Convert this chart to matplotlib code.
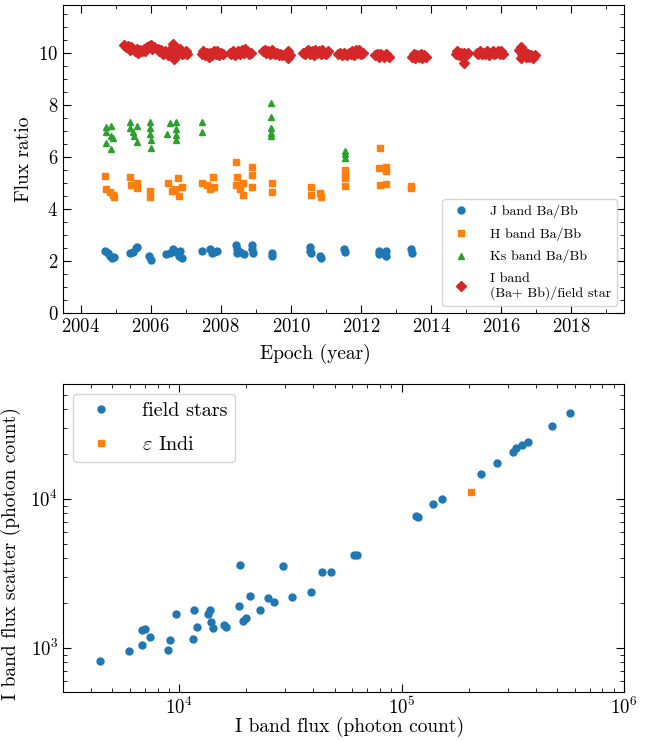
import matplotlib
matplotlib.use("Agg")
import matplotlib.pyplot as plt
from matplotlib.ticker import MultipleLocator

plt.rcParams['font.family'] = 'cmr10'
plt.rcParams['mathtext.fontset'] = 'cm'
plt.rcParams['axes.formatter.use_mathtext'] = True
plt.rcParams['axes.unicode_minus'] = False

# J band Ba/Bb
j_year = [2004.7, 2004.78, 2004.85, 2004.9, 2004.95,
          2005.42, 2005.5, 2005.58, 2005.6, 2005.95, 2006.0,
          2006.45, 2006.55, 2006.65, 2006.72, 2006.8, 2006.85, 2006.88,
          2007.45, 2007.68, 2007.75, 2007.82, 2007.88,
          2008.42, 2008.45, 2008.45, 2008.55, 2008.65, 2008.9, 2008.9, 2008.92,
          2009.45, 2009.45, 2010.55, 2010.55, 2010.56, 2010.82, 2010.86,
          2011.52, 2011.53, 2012.5, 2012.52, 2012.62, 2012.7, 2012.72,
          2013.43, 2013.44]
j_ratio = [2.38, 2.3, 2.2, 2.1, 2.15,
           2.3, 2.35, 2.5, 2.55, 2.2, 2.05,
           2.25, 2.3, 2.45, 2.35, 2.2, 2.4, 2.1,
           2.38, 2.45, 2.3, 2.35, 2.4,
           2.6, 2.45, 2.3, 2.35, 2.28, 2.6, 2.45, 2.3,
           2.3, 2.2, 2.55, 2.4, 2.3, 2.2, 2.1,
           2.45, 2.35, 2.4, 2.25, 2.3, 2.4, 2.2,
           2.45, 2.3]

# H band Ba/Bb
h_year = [2004.69, 2004.72, 2004.83, 2004.93, 2004.95,
          2005.42, 2005.45, 2005.6, 2005.6, 2005.99, 2005.99,
          2006.5, 2006.6, 2006.69, 2006.78, 2006.8, 2006.88,
          2007.45, 2007.6, 2007.68, 2007.78, 2007.82,
          2008.43, 2008.45, 2008.43, 2008.55, 2008.63, 2008.63,
          2008.9, 2008.9, 2008.9, 2009.45, 2009.45,
          2010.58, 2010.58, 2010.82, 2010.86,
          2011.53, 2011.53, 2011.53, 2011.53,
          2012.53, 2012.51, 2012.7, 2012.7, 2012.53, 2012.7,
          2013.43, 2013.43]
h_ratio = [5.27, 4.78, 4.65, 4.53, 4.45,
           5.23, 4.9, 4.98, 4.8, 4.7, 4.46,
           5.0, 4.68, 4.78, 5.17, 4.5, 4.85,
           5.0, 4.9, 4.78, 5.23, 4.85,
           5.8, 5.23, 4.91, 4.75, 4.98, 4.53,
           5.62, 5.3, 4.85, 4.98, 4.65,
           4.85, 4.55, 4.6, 4.45,
           5.49, 5.3, 5.17, 4.88,
           6.32, 5.55, 5.6, 5.45, 4.91, 4.95,
           4.89, 4.8]

# Ks band Ba/Bb
ks_year = [2004.72, 2004.72, 2004.86, 2004.88, 2004.92, 2004.72, 2004.86,
           2005.4, 2005.4, 2005.6, 2005.5, 2005.53, 2005.6,
           2005.97, 2005.97, 2005.97, 2006.0, 2006.0,
           2006.54, 2006.72, 2006.72, 2006.72, 2006.72, 2006.47,
           2007.45, 2007.45,
           2009.44, 2009.44, 2009.44, 2009.44, 2009.44,
           2011.53, 2011.53, 2011.53]
ks_ratio = [7.15, 6.94, 7.19, 6.81, 6.72, 6.52, 6.3,
            7.35, 7.12, 7.19, 6.94, 6.8, 6.58,
            7.32, 7.1, 6.88, 6.66, 6.35,
            7.28, 7.35, 7.05, 6.85, 6.66, 6.86,
            7.32, 6.94,
            8.05, 7.54, 7.1, 6.9, 6.8,
            6.22, 6.1, 5.95]

# I band (Ba+Bb)/field star
i_year = [2005.25, 2005.3, 2005.35, 2005.4, 2005.45, 2005.5, 2005.55, 2005.6, 2005.65,
          2005.7, 2005.75, 2005.8, 2005.85, 2005.9, 2005.95, 2006.0, 2006.05, 2006.1,
          2006.2, 2006.25, 2006.3, 2006.35, 2006.4, 2006.45, 2006.5, 2006.55, 2006.6,
          2006.65, 2006.67, 2006.7, 2006.75, 2006.8, 2006.85, 2006.9, 2006.95, 2007.0, 2007.05,
          2007.45, 2007.5, 2007.55, 2007.6, 2007.65, 2007.7, 2007.75, 2007.8, 2007.85,
          2007.9, 2007.95, 2008.0, 2008.05,
          2008.25, 2008.3, 2008.35, 2008.4, 2008.45, 2008.5, 2008.55, 2008.6, 2008.65,
          2008.7, 2008.75, 2008.8, 2008.85,
          2009.2, 2009.25, 2009.3, 2009.35, 2009.4, 2009.45, 2009.5, 2009.55, 2009.6,
          2009.65, 2009.7, 2009.75,
          2009.9, 2009.93, 2009.93, 2009.96,
          2010.35, 2010.4, 2010.45, 2010.5, 2010.55, 2010.6, 2010.65, 2010.7, 2010.75,
          2010.8, 2010.85, 2010.9, 2010.95, 2011.0, 2011.05,
          2011.35, 2011.4, 2011.45, 2011.5, 2011.55, 2011.6, 2011.65, 2011.7, 2011.75,
          2011.8, 2011.85, 2011.9, 2011.95, 2012.0, 2012.05,
          2012.4, 2012.45, 2012.5, 2012.55, 2012.6, 2012.65, 2012.7, 2012.75, 2012.8,
          2013.45, 2013.5, 2013.55, 2013.6, 2013.65, 2013.7, 2013.75, 2013.8, 2013.85,
          2014.7, 2014.75, 2014.8, 2014.85, 2014.9, 2014.95, 2014.95, 2015.0, 2015.05,
          2015.3, 2015.35, 2015.4, 2015.45, 2015.5, 2015.55, 2015.6, 2015.65, 2015.7,
          2015.75, 2015.8, 2015.85, 2015.9, 2015.95, 2016.0, 2016.05,
          2016.5, 2016.55, 2016.55, 2016.6, 2016.65, 2016.7, 2016.75, 2016.8, 2016.85,
          2016.9, 2016.95]
i_ratio = [10.3, 10.2, 10.25, 10.1, 10.2, 10.15, 10.05, 10.15, 10.0,
           10.1, 10.05, 10.15, 10.05, 10.2, 10.25, 10.3, 10.15, 10.2,
           10.15, 10.05, 10.1, 9.95, 10.05, 10.0, 9.9, 10.1, 10.15,
           10.35, 9.75, 10.2, 9.9, 10.05, 10.15, 9.95, 10.0, 10.05, 9.95,
           9.95, 10.05, 9.9, 10.0, 9.85, 10.0, 9.9, 10.05, 9.95,
           10.05, 9.9, 10.0, 9.95,
           10.0, 9.95, 10.05, 9.9, 10.0, 10.05, 9.95, 10.1, 10.0,
           10.15, 10.05, 9.95, 10.0,
           10.05, 10.1, 10.0, 10.05, 9.95, 10.1, 10.0, 9.95, 10.0,
           9.9, 9.95, 9.9,
           9.95, 10.05, 9.8, 9.9,
           10.0, 9.95, 10.05, 10.1, 9.95, 10.05, 9.9, 10.1, 10.0,
           10.05, 9.95, 10.1, 10.0, 9.95, 10.05,
           9.95, 10.0, 9.9, 10.0, 9.95, 9.9, 10.0, 9.95, 10.05,
           9.9, 10.1, 10.0, 10.1, 9.95, 10.0,
           9.9, 9.95, 9.85, 9.95, 9.9, 9.85, 9.95, 9.9, 9.85,
           9.85, 9.95, 9.8, 9.9, 9.85, 9.95, 9.8, 9.9, 9.85,
           9.95, 10.05, 9.9, 10.0, 9.85, 9.6, 10.0, 9.9, 10.0,
           10.0, 9.95, 10.05, 9.95, 10.0, 9.95, 10.05, 9.9, 10.0,
           10.05, 9.95, 10.0, 10.05, 9.95, 10.05, 9.95,
           10.1, 9.8, 10.2, 9.95, 10.05, 9.85, 9.95, 9.85, 9.9,
           9.8, 9.9]

# field stars: I band flux vs scatter (photon count)
field_flux = [4400, 5970, 6810, 6810, 6990, 7360, 8870, 9110, 9670, 11520,
              11670, 11960, 13460, 13740, 13880, 14200, 15810, 16300, 18840, 18620,
              19410, 19960, 20730, 23160, 25000, 26690, 29240, 32190, 39180, 44060,
              48150, 60960, 62700, 116400, 119000, 138000, 152300, 228600, 269400, 315500,
              327800, 347500, 368400, 476400, 574500]
field_scatter = [818, 955, 1042, 1321, 1335, 1191, 969, 1120, 1675, 1150,
                 1791, 1389, 1675, 1800, 1494, 1355, 1420, 1377, 3606, 1915,
                 1502, 1589, 2233, 1807, 2166, 2028, 3514, 2190, 2387, 3205,
                 3223, 4189, 4189, 7690, 7600, 9290, 10000, 14790, 17360, 20650,
                 21770, 22930, 24250, 30640, 37560]
eps_flux = [204700]
eps_scatter = [11130]

fig = plt.figure(figsize=(6.51, 7.41), dpi=100)
ax1 = fig.add_axes([0.0968, 0.5776, 0.8617, 0.4157])
ax2 = fig.add_axes([0.0968, 0.0661, 0.8617, 0.4157])

ax1.plot(j_year, j_ratio, 'o', ms=5, color='tab:blue', label='J band Ba/Bb')
ax1.plot(h_year, h_ratio, 's', ms=5, color='tab:orange', label='H band Ba/Bb')
ax1.plot(ks_year, ks_ratio, '^', ms=5, color='tab:green', label='Ks band Ba/Bb')
ax1.plot(i_year, i_ratio, 'D', ms=5, color='tab:red', label='I band\n(Ba+ Bb)/field star')
ax1.set_xlim(2003.5, 2019.5)
ax1.set_ylim(0, 11.83)
ax1.xaxis.set_major_locator(MultipleLocator(2))
ax1.xaxis.set_minor_locator(MultipleLocator(1))
ax1.yaxis.set_major_locator(MultipleLocator(2))
ax1.yaxis.set_minor_locator(MultipleLocator(0.5))
ax1.set_xlabel('Epoch (year)', fontsize=14)
ax1.set_ylabel('Flux ratio', fontsize=14)
ax1.xaxis.set_label_coords(0.449, -0.1)
ax1.legend(loc='lower right', fontsize=10, labelspacing=0.65, handletextpad=1.1,
           borderaxespad=0.5)

ax2.loglog(field_flux, field_scatter, 'o', ms=5, color='tab:blue', label='field stars')
ax2.loglog(eps_flux, eps_scatter, 's', ms=5, color='tab:orange', label=r'$\varepsilon$ Indi')
ax2.set_xlim(3000, 1e6)
ax2.set_ylim(505, 5.9e4)
ax2.set_xlabel('I band flux (photon count)', fontsize=14)
ax2.set_ylabel('I band flux scatter (photon count)', fontsize=14)
ax2.xaxis.set_label_coords(0.51, -0.08)
ax2.yaxis.set_label_coords(-0.075, 0.45)
ax2.legend(loc='upper left', fontsize=14.5, labelspacing=0.8, handletextpad=1.0,
           borderaxespad=0.5)

for ax in (ax1, ax2):
    ax.tick_params(which='both', direction='in', top=True, right=True, labelsize=13.5)
    ax.tick_params(which='major', length=6)
    ax.tick_params(which='minor', length=3)

fig.savefig('out.png', dpi=100)
